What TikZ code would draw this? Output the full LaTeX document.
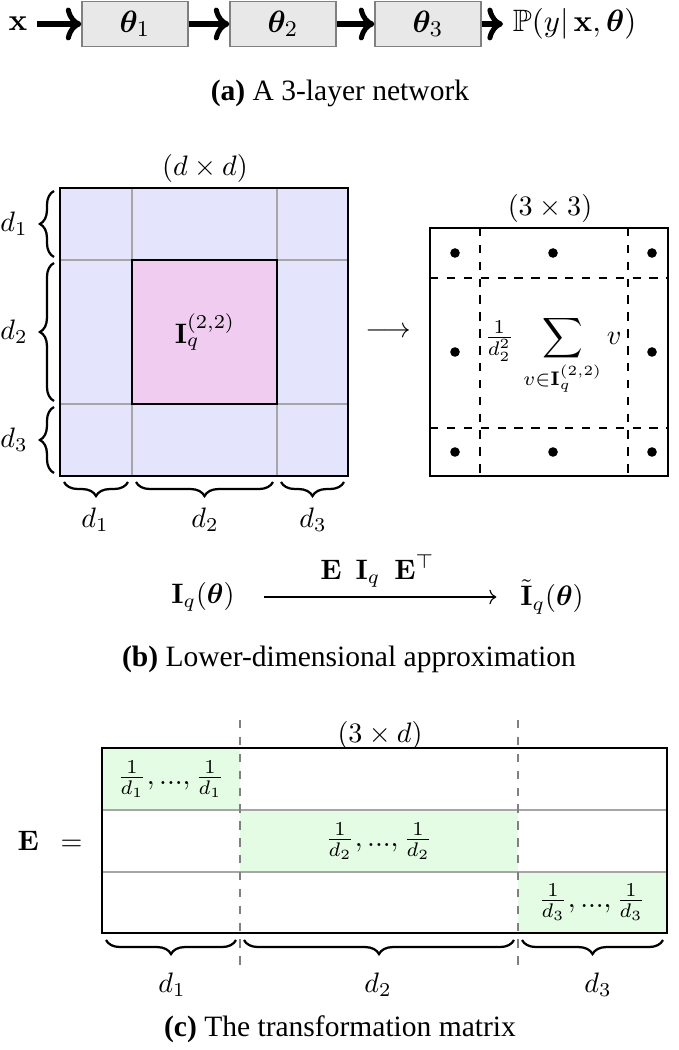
\documentclass[tikz,border=0pt]{standalone}
\usepackage[no-math]{fontspec}
\setmainfont{Liberation Serif}
\usepackage{amsmath,amssymb,bm}
\usetikzlibrary{decorations.pathreplacing,arrows.meta}
\definecolor{lavender}{RGB}{228,228,252}
\definecolor{pinkcell}{RGB}{240,204,240}
\definecolor{greencell}{RGB}{228,252,228}
\tikzset{
	layer/.style={draw=gray, fill=gray!18, minimum width=1.325cm, minimum height=0.54cm},
	flow/.style={->, line width=1.8pt},
	gridline/.style={gray!70},
	bracedown/.style={decorate, decoration={brace, amplitude=5pt}, thick},
	cell/.style={circle, fill, inner sep=0pt, minimum size=1.2mm},
	caption/.style={font=\fontsize{10.5}{12}\selectfont}
}
\begin{document}
\begin{tikzpicture}[x=0.0125cm, y=-0.0125cm]
		\useasboundingbox (0,0) rectangle (679,1050);
		% (a)
		\begin{scope}[every node/.append style={font=\fontsize{11}{13}\selectfont}]
		\node (x) at (18,24) {$\mathbf{x}$};
		\node[layer] (l1) at (135,24) {$\bm{\theta}_1$};
		\node[layer] (l2) at (283,24) {$\bm{\theta}_2$};
		\node[layer] (l3) at (428,24) {$\bm{\theta}_3$};
		\node[anchor=west] (py) at (503,24) {$\mathbb{P}(y|\,\mathbf{x},\bm{\theta})$};
		\end{scope}
		\draw[flow] (x) -- (l1);
		\draw[flow] (l1) -- (l2);
		\draw[flow] (l2) -- (l3);
		\draw[flow] (l3) -- (py);
		\node[caption] (capa) at (340,93) {\textbf{(a)} A 3-layer network};
		
		% (b)
		\fill[lavender] (60,188) rectangle (348,476);
		\fill[pinkcell] (132,260) rectangle (277,404);
		\draw[gridline] (132,188) -- (132,476);
		\draw[gridline] (277,188) -- (277,476);
		\draw[gridline] (60,260) -- (348,260);
		\draw[gridline] (60,404) -- (348,404);
		\draw (132,260) rectangle (277,404);
		\draw (60,188) rectangle (348,476);
		\node (dd) at (205,168) {$(d\times d)$};
		\node (Isub) at (205,332) {$\mathbf{I}_q^{(2,2)}$};
		\draw[bracedown] (54,257) -- (54,191);
		\draw[bracedown] (54,401) -- (54,263);
		\draw[bracedown] (54,473) -- (54,407);
		\node (r1) at (14,224) {$d_1$};
		\node (r2) at (14,332) {$d_2$};
		\node (r3) at (14,440) {$d_3$};
		\draw[bracedown] (128,482) -- (64,482);
		\draw[bracedown] (273,482) -- (136,482);
		\draw[bracedown] (344,482) -- (281,482);
		\node (c1) at (95,520) {$d_1$};
		\node (c2) at (205,520) {$d_2$};
		\node (c3) at (313,520) {$d_3$};
		\node (to) at (388,332) {$\longrightarrow$};
		
		\draw (430,228) rectangle (668,476);
		\draw[dashed] (480,228) -- (480,476);
		\draw[dashed] (628,228) -- (628,476);
		\draw[dashed] (430,278) -- (668,278);
		\draw[dashed] (430,428) -- (668,428);
		\node (tt) at (550,208) {$(3\times 3)$};
		\foreach \px/\py in {455/253, 553/253, 652/253, 455/352, 652/352, 455/452, 553/452, 652/452}
			\node[cell] at (\px,\py) {};
		\node (avg) at (553,355) {$\frac{1}{d_2^2}\,\displaystyle\sum_{v\in\mathbf{I}_q^{(2,2)}} v$};
		
		\node (Iq) at (203,597) {$\mathbf{I}_q(\bm{\theta})$};
		\node (Iqt) at (552,597) {$\tilde{\mathbf{I}}_q(\bm{\theta})$};
		\draw[->, shorten <=7pt, shorten >=5pt] (Iq) -- node[above] {$\mathbf{E}\ \ \mathbf{I}_q\ \ \mathbf{E}^\top$} (Iqt);
		\node[caption] (capb) at (349,659) {\textbf{(b)} Lower-dimensional approximation};
		
		% (c)
		\fill[greencell] (102,748) rectangle (240,810);
		\fill[greencell] (240,810) rectangle (518,872);
		\fill[greencell] (518,872) rectangle (667,933);
		\draw[gridline] (102,810) -- (667,810);
		\draw[gridline] (102,872) -- (667,872);
		\draw[gray, dashed] (240,720) -- (240,965);
		\draw[gray, dashed] (518,720) -- (518,965);
		\draw (102,748) rectangle (667,933);
		\node (E) at (50,841) {$\mathbf{E}\ \ =$};
		\node (td) at (380,735) {$(3\times d)$};
		\node (e1) at (171,779) {$\frac{1}{d_1},...,\frac{1}{d_1}$};
		\node (e2) at (379,841) {$\frac{1}{d_2},...,\frac{1}{d_2}$};
		\node (e3) at (592,902) {$\frac{1}{d_3},...,\frac{1}{d_3}$};
		\draw[bracedown] (236,940) -- (106,940);
		\draw[bracedown] (514,940) -- (244,940);
		\draw[bracedown] (663,940) -- (522,940);
		\node (b1) at (172,985) {$d_1$};
		\node (b2) at (378,985) {$d_2$};
		\node (b3) at (598,985) {$d_3$};
		\node[caption] (capc) at (340,1029) {\textbf{(c)} The transformation matrix};
	\end{tikzpicture}
\end{document}
